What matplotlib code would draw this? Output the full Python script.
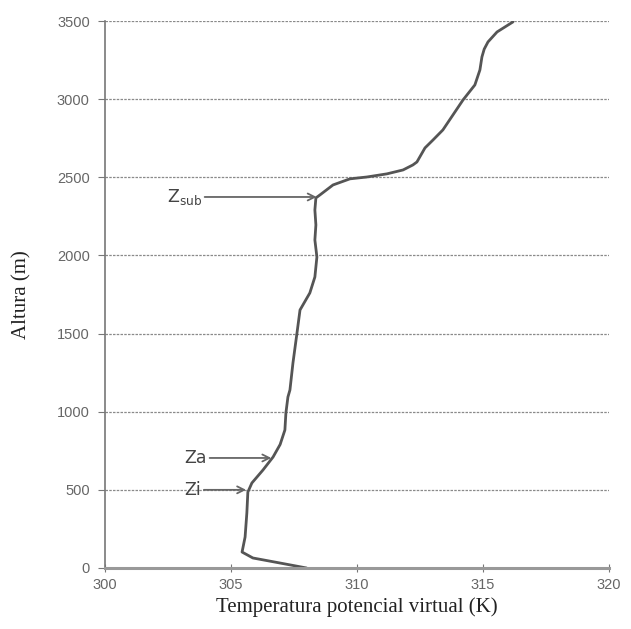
import matplotlib.pyplot as plt
import numpy as np

# perfil de temperatura potencial virtual (K) vs altura (m)
theta = [308.0, 306.94, 305.87, 305.44, 305.56, 305.63, 305.67, 305.83, 306.27,
         306.67, 306.95, 307.14, 307.18, 307.26, 307.34, 307.46, 307.62, 307.74,
         308.13, 308.33, 308.41, 308.33, 308.37, 308.33, 308.37, 308.53, 309.05,
         309.72, 310.40, 311.19, 311.83, 312.22, 312.38, 312.70, 313.02, 313.41,
         313.81, 314.21, 314.68, 314.88, 314.96, 315.05, 315.20, 315.56, 316.19]
altura = [0, 32, 64, 102, 198, 352, 486, 544, 627,
          710, 790, 883, 992, 1094, 1139, 1312, 1504, 1651,
          1760, 1862, 1990, 2099, 2195, 2291, 2368, 2387, 2451,
          2490, 2502, 2522, 2547, 2579, 2598, 2688, 2739, 2803,
          2899, 2995, 3091, 3187, 3270, 3320, 3366, 3430, 3494]

# etiquetas: texto, punto del perfil, posicion del texto
etiquetas = [("Z$_{\\mathrm{sub}}$", (308.4, 2374), (302.45, 2374)),
             ("Za", (306.6, 704), (303.15, 704)),
             ("Zi", (305.6, 500), (303.15, 500))]

fig = plt.figure(figsize=(6.31, 6.29), dpi=100)
ax = fig.add_axes([0.1664, 0.097, 0.7986, 0.8696])

ax.plot(theta, altura, color='#555555', lw=2.0, solid_capstyle='round',
        solid_joinstyle='round')

ax.set_xlim(300, 320)
ax.set_ylim(0, 3500)
ax.set_xticks(np.arange(300, 321, 5))
ax.set_yticks(np.arange(0, 3501, 500))
ax.yaxis.grid(True, linestyle=(0, (2, 1)), color='#8a8a8a', lw=0.9)
ax.set_axisbelow(True)

for s in ['top', 'right']:
    ax.spines[s].set_visible(False)
ax.spines['left'].set_color('#777777')
ax.spines['left'].set_linewidth(1.2)
ax.spines['bottom'].set_color('#999999')
ax.spines['bottom'].set_linewidth(2.2)

ax.tick_params(axis='y', direction='out', length=5, color='#777777',
               labelcolor='#666666', labelsize=10.5, pad=6)
ax.tick_params(axis='x', direction='inout', length=6, color='#777777',
               labelcolor='#666666', labelsize=10.5, pad=4)
for lab in ax.get_xticklabels() + ax.get_yticklabels():
    lab.set_family('Liberation Sans')

ax.set_xlabel("Temperatura potencial virtual (K)", family='Liberation Serif',
              fontsize=15, color='#222222', labelpad=4)
ax.set_ylabel("Altura (m)", family='Liberation Serif', fontsize=15,
              color='#222222', labelpad=18)

for txt, xy, xytext in etiquetas:
    ax.annotate(txt, xy=xy, xytext=xytext, fontsize=12.5, color='#444444',
                ha='left', va='center', family='DejaVu Sans',
                arrowprops=dict(arrowstyle='->', color='#666666', lw=1.3,
                                shrinkA=0, shrinkB=0))

fig.savefig('out.png', dpi=100)
